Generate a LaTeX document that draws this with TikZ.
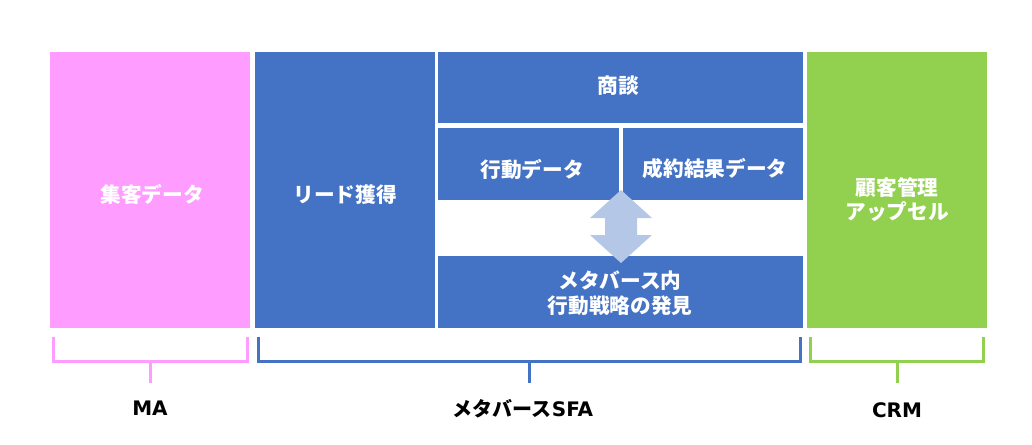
\documentclass[tikz,border=0pt]{standalone}
\usepackage{fontspec}
\setmainfont{Noto Sans CJK JP}
\newfontfamily\latinb{DejaVu Sans}
\definecolor{mapink}{HTML}{FF9CFF}
\definecolor{sfablue}{HTML}{4472C4}
\definecolor{crmgreen}{HTML}{92D050}
\definecolor{arrowblue}{HTML}{B4C7E7}
\begin{document}
\begin{tikzpicture}[x=0.75pt,y=-0.75pt,
  box/.style={draw=none,inner sep=0pt,anchor=center},
  txt/.style={inner sep=0pt,text=white,font=\fontsize{15.5}{18.5}\selectfont\bfseries,align=center,anchor=center},
  bracket/.style={line width=2.25pt,line cap=butt,line join=miter},
  lbl/.style={font=\fontsize{15}{18}\selectfont\bfseries,text=black,inner sep=0pt}]
\useasboundingbox (0,0) rectangle (1032,444);
\node[box,fill=mapink,minimum width=150pt,minimum height=207pt] (ma) at (150,190) {};
\node[box,fill=sfablue,minimum width=135pt,minimum height=207pt] (lead) at (345,190) {};
\node[box,fill=sfablue,minimum width=273.75pt,minimum height=53.25pt] (shodan) at (620.5,87.5) {};
\node[box,fill=sfablue,minimum width=135.75pt,minimum height=54pt] (kodo) at (528.5,164) {};
\node[box,fill=sfablue,minimum width=135pt,minimum height=54pt] (seiyaku) at (713,164) {};
\node[box,fill=sfablue,minimum width=273.75pt,minimum height=54pt] (meta) at (620.5,292) {};
\node[box,fill=crmgreen,minimum width=135pt,minimum height=207pt] (crm) at (897,190) {};
% texts
\node[txt] (matxt) at (152,194.5) {集客データ};
\node[txt] (leadtxt) at (345,195) {リード獲得};
\node[txt] (shodantxt) at (618,86) {商談};
\node[txt] (kodotxt) at (532,169) {行動データ};
\node[txt] (seiyakutxt) at (715,169) {成約結果データ};
\node[txt] (metatxt) at (620,293) {メタバース内\\行動戦略の発見};
\node[txt] (crmtxt) at (897,199.5) {顧客管理\\アップセル};
% double arrow
\fill[arrowblue] (621,190) -- (652,218) -- (637,218) -- (637,235) -- (652,235) -- (621,263)
  -- (590,235) -- (605,235) -- (605,218) -- (590,218) -- cycle;
% brackets
\coordinate (maL) at (53,337); \coordinate (maR) at (247,337); \coordinate (maS) at (150,361); \coordinate (maE) at (150,383);
\coordinate (sfL) at (258,337); \coordinate (sfR) at (800,337); \coordinate (sfS) at (529,361); \coordinate (sfE) at (529,383);
\coordinate (crL) at (810,337); \coordinate (crR) at (983,337); \coordinate (crS) at (897,361); \coordinate (crE) at (897,383);
\draw[bracket,mapink] (maL) |- (maS) -| (maR); \draw[bracket,mapink] (maS) -- (maE);
\draw[bracket,sfablue] (sfL) |- (sfS) -| (sfR); \draw[bracket,sfablue] (sfS) -- (sfE);
\draw[bracket,crmgreen] (crL) |- (crS) -| (crR); \draw[bracket,crmgreen] (crS) -- (crE);
\node[lbl] (malbl) at (150,408) {\latinb MA};
\node[lbl] (sfalbl) at (523,409) {メタバース{\latinb SFA}};
\node[lbl] (crmlbl) at (897,410) {\latinb CRM};
\end{tikzpicture}
\end{document}
